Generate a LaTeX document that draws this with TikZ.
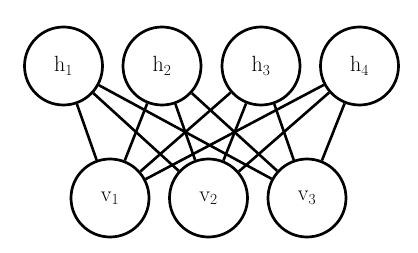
\documentclass[tikz,border=0pt]{standalone}
\usepackage{fix-cm}
\begin{document}
\begin{tikzpicture}[x=1pt,y=1pt,
  unit/.style={circle,draw,line width=2.7pt,minimum size=78pt,inner sep=0pt,font=\fontsize{22}{26}\selectfont},
  edge/.style={line width=2.6pt}]
\useasboundingbox (0,0) rectangle (418,252);
\node[unit] (h1) at (63.5,186) {h\textsubscript{1}};
\node[unit] (h2) at (162,186) {h\textsubscript{2}};
\node[unit] (h3) at (261,186) {h\textsubscript{3}};
\node[unit] (h4) at (359.5,186) {h\textsubscript{4}};
\node[unit] (v1) at (110,54) {v\textsubscript{1}};
\node[unit] (v2) at (208.5,54) {v\textsubscript{2}};
\node[unit] (v3) at (307,54) {v\textsubscript{3}};
\foreach \h in {h1,h2,h3,h4}
  \foreach \v in {v1,v2,v3}
    \draw[edge] (\h) -- (\v);
\end{tikzpicture}
\end{document}
